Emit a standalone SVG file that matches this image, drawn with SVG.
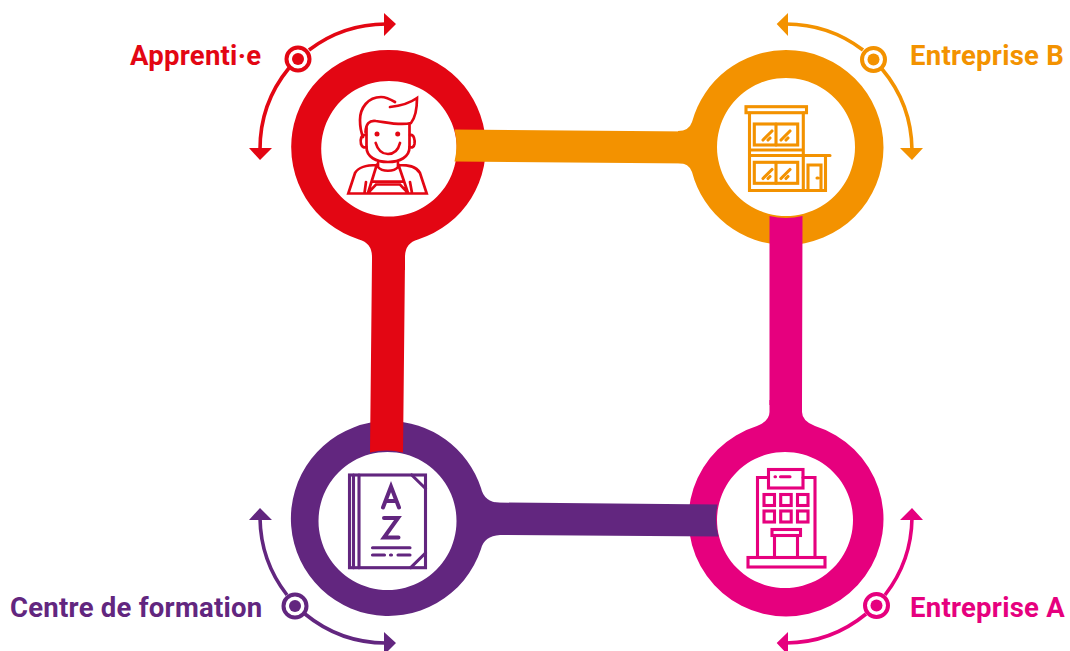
<svg xmlns="http://www.w3.org/2000/svg" width="1070" height="651" viewBox="0 0 1070 651">
<style>
text{font-family:"Roboto","Liberation Sans",sans-serif;font-weight:700;font-size:27.500px;letter-spacing:.25px}
.arc{fill:none;stroke-width:3.600}
.ic{fill:none;stroke-width:3.100;stroke-linejoin:miter;stroke-linecap:round}
.ring{fill:#fff;stroke-width:4}
.red{color:#e30613}.org{color:#f39200}.pur{color:#62267f}.pnk{color:#e6007e}
</style>
<rect width="1070" height="651" fill="#fff"/>
<g id="node-apprenti" class="red">
<path fill="currentColor" fill-rule="evenodd" d="M388.500 50A97 97 0 0 1 418 239.500Q405 243 405 257V270H372V257Q372 243 359 239.500A97 97 0 0 1 388.500 50ZM389 81a67.800 67.800 0 1 0 .01 0Z"/>
<g stroke="currentColor" class="ic" style="stroke-width:2.700">
<path d="M390 107C400 106 410 103 417 98C417 110 415 118 411 123C400 126 385 122 376 121C369 120 366 124 365.500 132M395 102C390 99 385 97 381 97C368 97 360 108 360 120C360 128 361 132 363 137"/>
<path d="M366.500 128V147C366.500 157 376 162 388 162C400 162 409.500 157 409.500 147V124"/>
<path d="M366 135C361 134 360 140 361 144C362 147 364 148 366.500 147M410 135C414 134 415 140 414.500 144C414 147 412 148 409.500 147"/>
<path d="M375.700 143C378 151 383 154 388 154C393 154 398 151 400 143"/>
<path d="M378 163V167C382 172 394 172 398 167V163M377 165C368 165 359 166 355 173L348.300 193.500H426.700L420 173C416 166 408 165 399 165M376.700 165L368 193M398.500 165L408 193M372 181.700H404M366 182L364.500 193M410 182L412 193M368 193L376 184.500H400L408 193"/>
</g>
<circle cx="377" cy="134" r="2.500" fill="currentColor"/><circle cx="397.700" cy="134" r="2.500" fill="currentColor"/>
</g>
<g id="node-entreprise-b" class="org">
<path fill="currentColor" fill-rule="evenodd" d="M786 50A97.500 97.500 0 1 1 786 245A97.500 97.500 0 0 1 692 172Q689 163 678 163V131Q689 131 692 122A97.500 97.500 0 0 1 786 50ZM786 78a69 69 0 1 0 .01 0Z"/>
<g stroke="currentColor" class="ic">
<rect x="746" y="106.700" width="60.500" height="6"/>
<path d="M749.500 113V190.500H825.500V157M803.300 113V190.500M749.500 150H803.300M749.500 155.500H830"/>
<rect x="754.300" y="124" width="43.400" height="21"/><rect x="754.300" y="162.300" width="43.400" height="21"/>
<path d="M776 124V145M776 162.300V183.300M763 140L772 131M768 140L770 138M781 140L790 131M786 140L788 138M763 178.500L772 169.500M768 178.500L770 176.500M781 178.500L790 169.500M786 178.500L788 176.500M808 190.500V165H821V190.500M817 178H818"/>
</g>
</g>
<g id="node-centre" class="pur">
<path fill="currentColor" fill-rule="evenodd" d="M388.500 421A97.500 97.500 0 0 1 481 488Q484 502 500 503V535Q484 536 481 549A97.500 97.500 0 1 1 388.500 421ZM387.500 452a69 69 0 1 0 .01 0Z"/>
<g stroke="currentColor" class="ic">
<rect x="349.500" y="475" width="76" height="92.700"/>
<path d="M353.500 475V567.700M359 475V567.700M411.700 475L425.500 488.500M425.500 553L410.700 567.700"/>
<path d="M383 507.500L391 486.500L399 507.500M385.500 501H396.500M384 518H398L384 537.500H398.500" stroke-width="4"/>
<path d="M372.500 547.700H410M372.500 555H384.500M398 555H410M390.500 555H391.500"/>
</g>
</g>
<g id="node-entreprise-a" class="pnk">
<path fill="currentColor" fill-rule="evenodd" d="M769.500 400H802V412Q802 421 815 426A97.500 97.500 0 1 1 757 426Q769.500 421 769.500 412ZM785 452a68 68 0 1 0 .01 0Z"/>
<g stroke="currentColor" class="ic">
<rect x="768.500" y="469.500" width="34.500" height="18.500"/>
<path d="M768 477.500H757.500V557M803 477.500H815V557"/>
<rect x="764" y="494.500" width="10.500" height="11"/><rect x="780.700" y="494.500" width="10.500" height="11"/><rect x="797.500" y="494.500" width="10.500" height="11"/>
<rect x="764" y="511" width="10.500" height="11"/><rect x="780.700" y="511" width="10.500" height="11"/><rect x="797.500" y="511" width="10.500" height="11"/>
<rect x="772" y="529.500" width="28.500" height="6"/>
<path d="M774.500 535.500V557.500M797.500 535.500V557.500"/>
<rect x="748" y="557.500" width="77" height="9.500"/>
<path d="M775 476.800H775.500M780.500 476.800H790"/>
</g>
</g>
<g id="connectors">
<path fill="#f39200" d="M454.500 129.500L690 131.500V163.500L454.500 161.500A67.800 67.800 0 0 0 454.500 129.500Z"/>
<path fill="#e30613" d="M372 260L405 260L403 452.500A67 67 0 0 0 370 452.500Z"/>
<path fill="#e6007e" d="M769.500 216A69 69 0 0 0 802.500 216L802 405H769.500Z"/>
<path fill="#62267f" d="M495 502.500L717.500 504.500A68 68 0 0 0 718.500 536.500L495 535Z"/>
</g>
<g id="label-apprenti" class="red" fill="currentColor">
<text x="130" y="65" fill="#e30613">Apprenti·e</text>
<path class="arc" stroke="currentColor" d="M386 24A128 128 0 0 0 309 50M289 68A128 128 0 0 0 260 150"/>
<path fill="currentColor" d="M396 24L384 13V36ZM260 160L249 148H272Z"/>
<circle class="ring" cx="298" cy="59" r="11.500" stroke="currentColor"/><circle cx="298" cy="59" r="6" fill="currentColor"/>
</g>
<g id="label-entreprise-b" class="org" fill="currentColor">
<text x="910" y="65" fill="#f39200">Entreprise B</text>
<path class="arc" stroke="currentColor" d="M786 24A128 128 0 0 1 863 50M882 69A128 128 0 0 1 912 150"/>
<path fill="currentColor" d="M776.700 24L788 13V36ZM912 160L900 148H923Z"/>
<circle class="ring" cx="873.500" cy="59.500" r="11.500" stroke="currentColor"/><circle cx="873.500" cy="59.500" r="6" fill="currentColor"/>
</g>
<g id="label-centre" class="pur" fill="currentColor">
<text x="10" y="617" fill="#62267f">Centre de formation</text>
<path class="arc" stroke="currentColor" d="M260 518A128 128 0 0 0 287 595M305 614A128 128 0 0 0 386 643"/>
<path fill="currentColor" d="M260 508L249 520H272ZM396 643L384 632V655Z"/>
<circle class="ring" cx="295" cy="606" r="11.500" stroke="currentColor"/><circle cx="295" cy="606" r="6" fill="currentColor"/>
</g>
<g id="label-entreprise-a" class="pnk" fill="currentColor">
<text x="910" y="617" fill="#e6007e">Entreprise A</text>
<path class="arc" stroke="currentColor" d="M912 518A128 128 0 0 1 885 595M866 614A128 128 0 0 1 786 643"/>
<path fill="currentColor" d="M912 508L900 520H923ZM776.700 643L788 632V655Z"/>
<circle class="ring" cx="876.500" cy="605.500" r="11.500" stroke="currentColor"/><circle cx="876.500" cy="605.500" r="6" fill="currentColor"/>
</g>
</svg>
